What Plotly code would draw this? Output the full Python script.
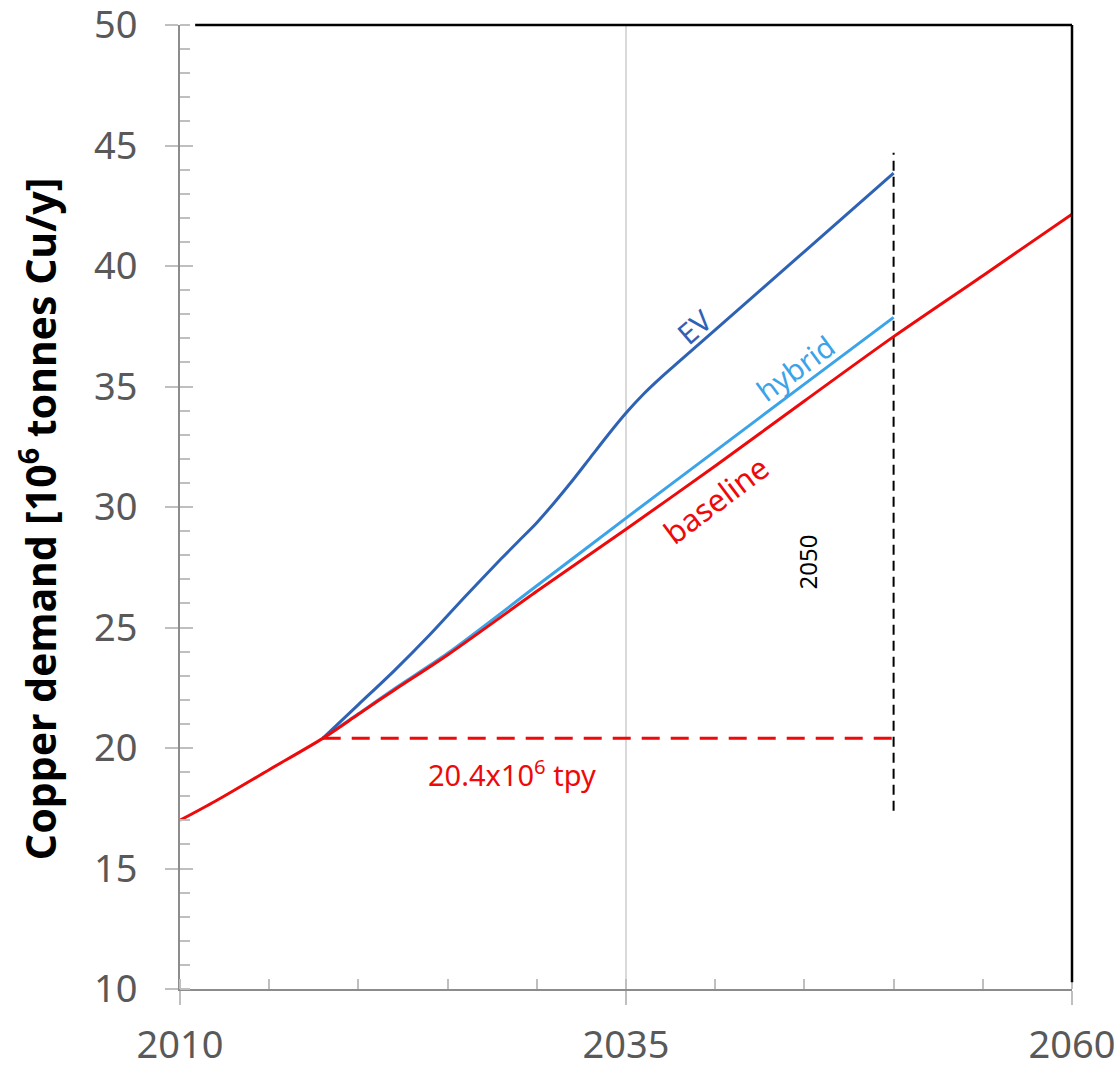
import plotly.graph_objects as go

# Copper demand scenarios, 10^6 tonnes Cu per year
base_years = [2010, 2012, 2015, 2018, 2020, 2022, 2025, 2030, 2035, 2040, 2045, 2050, 2055, 2060]
base_vals = [17.0, 17.8, 19.1, 20.4, 21.4, 22.4, 23.86, 26.5, 29.08, 31.7, 34.4, 37.07, 39.6, 42.15]

hybrid_years = [2018, 2020, 2022, 2025, 2030, 2035, 2040, 2045, 2050]
hybrid_vals = [20.4, 21.42, 22.45, 23.93, 26.73, 29.54, 32.32, 35.1, 37.87]

ev_years = [2018, 2020, 2022, 2024, 2026, 2028, 2029, 2030, 2031, 2032, 2033, 2034, 2035,
            2036, 2037, 2038, 2040, 2045, 2050]
ev_vals = [20.4, 21.8, 23.2, 24.7, 26.3, 27.85, 28.6, 29.35, 30.2, 31.1, 32.05, 33.0, 33.9,
           34.7, 35.4, 36.05, 37.35, 40.6, 43.85]

# 2018 demand level carried forward to 2050
level_years = [2018, 2050]
level_vals = [20.4, 20.4]

# 2050 marker
marker_years = [2050, 2050]
marker_vals = [17.4, 44.7]

x_ticks = [2010, 2035, 2060]
y_ticks = [10, 15, 20, 25, 30, 35, 40, 45, 50]

RED = "#EE0A0A"
DARK_BLUE = "#2E62B5"
LIGHT_BLUE = "#3BA3E8"
TICK_GRAY = "#595959"
FONT = "Noto Sans"

fig = go.Figure()

fig.add_trace(go.Scatter(x=level_years, y=level_vals, mode="lines",
                         line=dict(color=RED, width=3, dash="18px,11px"), hoverinfo="skip"))
fig.add_trace(go.Scatter(x=marker_years, y=marker_vals, mode="lines",
                         line=dict(color="black", width=2, dash="10px,6px"), hoverinfo="skip"))
fig.add_trace(go.Scatter(x=hybrid_years, y=hybrid_vals, mode="lines", name="hybrid",
                         line=dict(color=LIGHT_BLUE, width=3, shape="spline", smoothing=0.8)))
fig.add_trace(go.Scatter(x=ev_years, y=ev_vals, mode="lines", name="EV",
                         line=dict(color=DARK_BLUE, width=3, shape="spline", smoothing=0.8)))
fig.add_trace(go.Scatter(x=base_years, y=base_vals, mode="lines", name="baseline",
                         line=dict(color=RED, width=3, shape="spline", smoothing=0.8)))

# Inside major ticks on the y axis (overlay axis, no labels)
fig.add_trace(go.Scatter(x=[None], y=[None], yaxis="y2", showlegend=False))

annotations = [
    dict(x=2038.8, y=37.5, text="EV", textangle=-41, font=dict(color=DARK_BLUE, size=29, family=FONT)),
    dict(x=2044.5, y=35.8, text="hybrid", textangle=-36, font=dict(color=LIGHT_BLUE, size=29, family=FONT)),
    dict(x=2040.0, y=30.3, text="baseline", textangle=-37, font=dict(color=RED, size=31, family=FONT)),
    dict(x=2045.15, y=27.7, text="2050", textangle=-90, font=dict(color="black", size=24, family=FONT)),
    dict(x=2028.6, y=18.96, text="20.4x10<sup>6</sup> tpy", font=dict(color=RED, size=29, family=FONT)),
]
for a in annotations:
    a.update(xref="x", yref="y", showarrow=False)

# Y axis title, placed as rotated text left of the tick labels
annotations.append(dict(
    xref="paper", yref="paper", x=-0.159, y=0.4876, xanchor="center", yanchor="middle",
    text="<b>Copper demand [10<sup>6</sup> tonnes Cu/y]</b>", textangle=-90, showarrow=False,
    font=dict(family=FONT, size=41, color="black"),
))

fig.update_layout(
    width=1119, height=1065,
    margin=dict(l=180, r=47, t=25, b=76),
    paper_bgcolor="white", plot_bgcolor="white",
    showlegend=False,
    annotations=annotations,
    xaxis=dict(
        range=[2010, 2060], tickvals=x_ticks, ticktext=[str(v) for v in x_ticks],
        showgrid=True, gridcolor="#D9D9D9", gridwidth=1.5,
        showline=True, linecolor="#8C8C8C", linewidth=2,
        ticks="outside", ticklen=14, tickcolor="#BFBFBF", tickwidth=1.5,
        minor=dict(dtick=5, tick0=2010, ticks="inside", ticklen=10, tickcolor="#BFBFBF",
                   tickwidth=1.5, showgrid=False),
        tickfont=dict(family=FONT, size=38, color=TICK_GRAY),
        ticklabelstandoff=7, ticklabeloverflow="allow", zeroline=False, automargin=False,
    ),
    yaxis=dict(
        range=[10, 50], tickvals=y_ticks,
        showgrid=False, showline=True, linecolor="#8C8C8C", linewidth=2,
        ticks="outside", ticklen=13, tickcolor="#BFBFBF", tickwidth=1.5,
        minor=dict(dtick=1, tick0=10, ticks="inside", ticklen=10, tickcolor="#BFBFBF",
                   tickwidth=1.5, showgrid=False),
        tickfont=dict(family=FONT, size=38, color=TICK_GRAY),
        ticklabelstandoff=20, ticklabeloverflow="allow", zeroline=False, automargin=False,
    ),
    yaxis2=dict(
        overlaying="y", range=[10, 50], tickvals=y_ticks, showticklabels=False,
        ticks="inside", ticklen=13, tickcolor="#BFBFBF", tickwidth=1.5,
        showgrid=False, showline=False, zeroline=False, automargin=False,
    ),
    shapes=[
        dict(type="line", xref="paper", yref="paper", x0=0.017, x1=1, y0=1, y1=1,
             line=dict(color="black", width=2.5)),
        dict(type="line", xref="paper", yref="paper", x0=1, x1=1, y0=0.007, y1=1,
             line=dict(color="black", width=2.5)),
    ],
)

fig.write_html("out.html")
